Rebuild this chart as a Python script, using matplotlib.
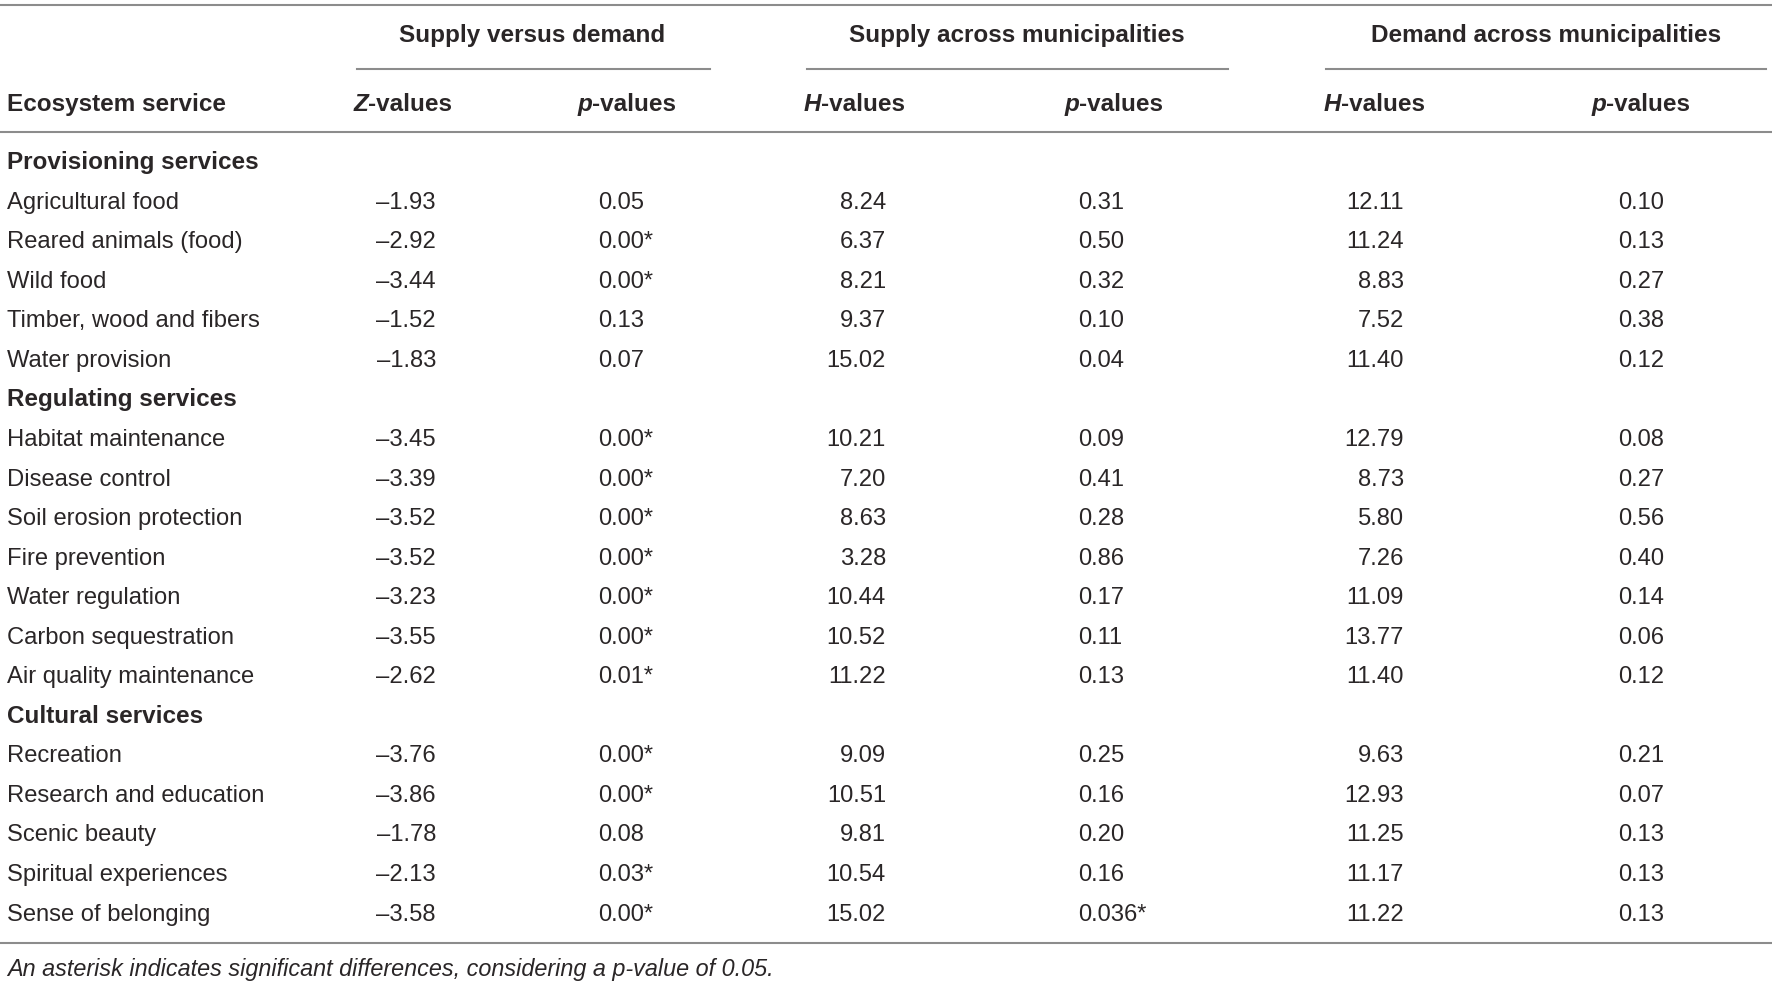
import matplotlib.pyplot as plt

# table content
groups = ['Provisioning services', 'Regulating services', 'Cultural services']
services = [
    ['Agricultural food', 'Reared animals (food)', 'Wild food',
     'Timber, wood and fibers', 'Water provision'],
    ['Habitat maintenance', 'Disease control', 'Soil erosion protection',
     'Fire prevention', 'Water regulation', 'Carbon sequestration',
     'Air quality maintenance'],
    ['Recreation', 'Research and education', 'Scenic beauty',
     'Spiritual experiences', 'Sense of belonging'],
]
z_vals = [-1.93, -2.92, -3.44, -1.52, -1.83,
          -3.45, -3.39, -3.52, -3.52, -3.23, -3.55, -2.62,
          -3.76, -3.86, -1.78, -2.13, -3.58]
p_sd = ['0.05', '0.00*', '0.00*', '0.13', '0.07',
        '0.00*', '0.00*', '0.00*', '0.00*', '0.00*', '0.00*', '0.01*',
        '0.00*', '0.00*', '0.08', '0.03*', '0.00*']
h_sup = [8.24, 6.37, 8.21, 9.37, 15.02,
         10.21, 7.20, 8.63, 3.28, 10.44, 10.52, 11.22,
         9.09, 10.51, 9.81, 10.54, 15.02]
p_sup = ['0.31', '0.50', '0.32', '0.10', '0.04',
         '0.09', '0.41', '0.28', '0.86', '0.17', '0.11', '0.13',
         '0.25', '0.16', '0.20', '0.16', '0.036*']
h_dem = [12.11, 11.24, 8.83, 7.52, 11.40,
         12.79, 8.73, 5.80, 7.26, 11.09, 13.77, 11.40,
         9.63, 12.93, 11.25, 11.17, 11.22]
p_dem = ['0.10', '0.13', '0.27', '0.38', '0.12',
         '0.08', '0.27', '0.56', '0.40', '0.14', '0.06', '0.12',
         '0.21', '0.07', '0.13', '0.13', '0.13']

col_groups = ['Supply versus demand', 'Supply across municipalities',
              'Demand across municipalities']
col_heads = [('Z', '-values'), ('p', '-values'), ('H', '-values'),
             ('p', '-values'), ('H', '-values'), ('p', '-values')]
footnote = 'An asterisk indicates significant differences, considering a p-value of 0.05.'

plt.rcParams['font.family'] = ['Liberation Sans', 'DejaVu Sans']
txt = '#2a2627'
line_c = '#8c8c8c'
fs = 17.1
fs_b = 17.5

fig = plt.figure(figsize=(17.72, 9.84), dpi=100)
ax = fig.add_axes([0, 0, 1, 1])
ax.set_xlim(0, 1772)
ax.set_ylim(984, 0)
ax.axis('off')

# rules
ax.plot([0, 1772], [5, 5], color=line_c, lw=1.5)
ax.plot([0, 1772], [132, 132], color=line_c, lw=1.5)
ax.plot([0, 1772], [943, 943], color=line_c, lw=1.5)
span_x = [(357, 710), (807, 1228), (1326, 1766)]
for x0, x1 in span_x:
    ax.plot([x0, x1], [69, 69], color=line_c, lw=1.5)

# spanning headers
group_cx = [532, 1017, 1546]
for cx, g in zip(group_cx, col_groups):
    ax.text(cx, 42, g, ha='center', va='baseline', fontsize=fs_b,
            fontweight='bold', color=txt)

# column headers
ax.text(7, 111, 'Ecosystem service', ha='left', va='baseline', fontsize=fs_b,
        fontweight='bold', color=txt)
head_cx = [403, 627, 854, 1114, 1374, 1641]
renderer = fig.canvas.get_renderer()
for cx, (sym, rest) in zip(head_cx, col_heads):
    t1 = ax.text(0, 111, sym, ha='left', va='baseline', fontsize=fs_b,
                 fontweight='bold', fontstyle='italic', color=txt)
    t2 = ax.text(0, 111, rest, ha='left', va='baseline', fontsize=fs_b,
                 fontweight='bold', color=txt)
    w1 = t1.get_window_extent(renderer).width
    w2 = t2.get_window_extent(renderer).width
    x0 = cx - (w1 + w2) / 2
    t1.set_x(x0)
    t2.set_x(x0 + w1)

# body rows
y0 = 161.6
step = 39.55
base = 7.5
row = 0
k = 0
for g, items in zip(groups, services):
    ax.text(7, y0 + row * step + base, g, ha='left', va='baseline',
            fontsize=fs_b, fontweight='bold', color=txt)
    row += 1
    for name in items:
        y = y0 + row * step + base
        ax.text(7, y, name, ha='left', va='baseline', fontsize=fs, color=txt)
        ax.text(436, y, '\u2013%.2f' % abs(z_vals[k]), ha='right',
                va='baseline', fontsize=fs, color=txt)
        ax.text(598, y, p_sd[k], ha='left', va='baseline', fontsize=fs, color=txt)
        ax.text(886, y, '%.2f' % h_sup[k], ha='right', va='baseline',
                fontsize=fs, color=txt)
        ax.text(1078, y, p_sup[k], ha='left', va='baseline', fontsize=fs, color=txt)
        ax.text(1404, y, '%.2f' % h_dem[k], ha='right', va='baseline',
                fontsize=fs, color=txt)
        ax.text(1618, y, p_dem[k], ha='left', va='baseline', fontsize=fs, color=txt)
        row += 1
        k += 1

ax.text(7, 976, footnote, ha='left', va='baseline', fontsize=16.8,
        fontstyle='italic', color=txt)

fig.savefig('out.png', dpi=100)
